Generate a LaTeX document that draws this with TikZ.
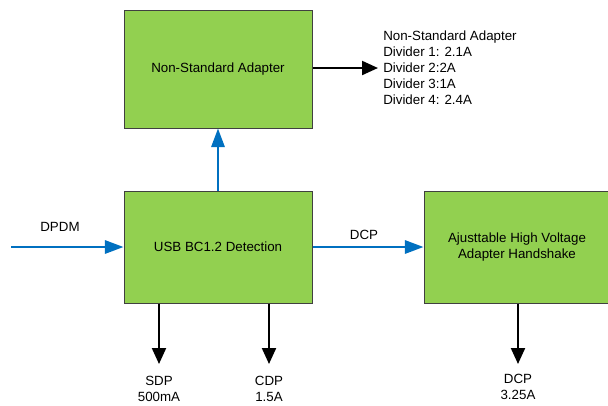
\documentclass[tikz,border=0pt]{standalone}
\usepackage{fontspec}
\setmainfont{Liberation Sans}
\usetikzlibrary{arrows.meta}
\definecolor{boxgreen}{HTML}{92D050}
\definecolor{arrowblue}{HTML}{0070C0}
\begin{document}
\begin{tikzpicture}[x=0.75pt,y=-0.75pt,
  block/.style={draw=black!75,line width=0.75pt,fill=boxgreen,align=center,
    font=\fontsize{10}{12}\selectfont,inner sep=0pt},
  bluearrow/.style={draw=arrowblue,line width=1.7pt,-{Triangle[length=14pt,width=10pt]}},
  blackarrow/.style={draw=black,line width=1.6pt,-{Triangle[length=12pt,width=10.5pt]}},
  lbl/.style={font=\fontsize{10}{12}\selectfont,inner sep=0pt,align=center}]
\useasboundingbox (0,0) rectangle (608,405);
\node[block,minimum width=141pt,minimum height=88.5pt] (nsa) at (218,69) {Non-Standard Adapter};
\node[block,minimum width=141pt,minimum height=84pt] (usb) at (218,247) {USB BC1.2 Detection};
\node[block,minimum width=139.5pt,minimum height=84pt] (hv) at (517,247) {Ajusttable High Voltage\\Adapter Handshake};
\coordinate (in) at (11,247);
\coordinate (nsaout) at (378,68);
\coordinate (sdpend) at (159,364);
\coordinate (cdpend) at (269,364);
\coordinate (dcpend) at (518,364);
\draw[bluearrow] (in) -- (usb.west);
\draw[bluearrow] (usb.east) -- (hv.west);
\draw[bluearrow] (usb.north) -- (nsa.south);
\draw[blackarrow] (nsa.east |- nsaout) -- (nsaout);
\draw[blackarrow] (usb.south -| sdpend) -- (sdpend);
\draw[blackarrow] (usb.south -| cdpend) -- (cdpend);
\draw[blackarrow] (hv.south -| dcpend) -- (dcpend);
\node[lbl] (dpdm) at (60,227) {DPDM};
\node[lbl] (dcp) at (364,235) {DCP};
\node[lbl,align=left,anchor=north west] (list) at (383,31) {Non-Standard Adapter\\Divider 1: 2.1A\\Divider 2:2A\\Divider 3:1A\\Divider 4: 2.4A};
\node[lbl] (sdp) at (159,389) {SDP\\500mA};
\node[lbl] (cdp) at (269,389) {CDP\\1.5A};
\node[lbl] (dcpout) at (518,387) {DCP\\3.25A};
\end{tikzpicture}
\end{document}
